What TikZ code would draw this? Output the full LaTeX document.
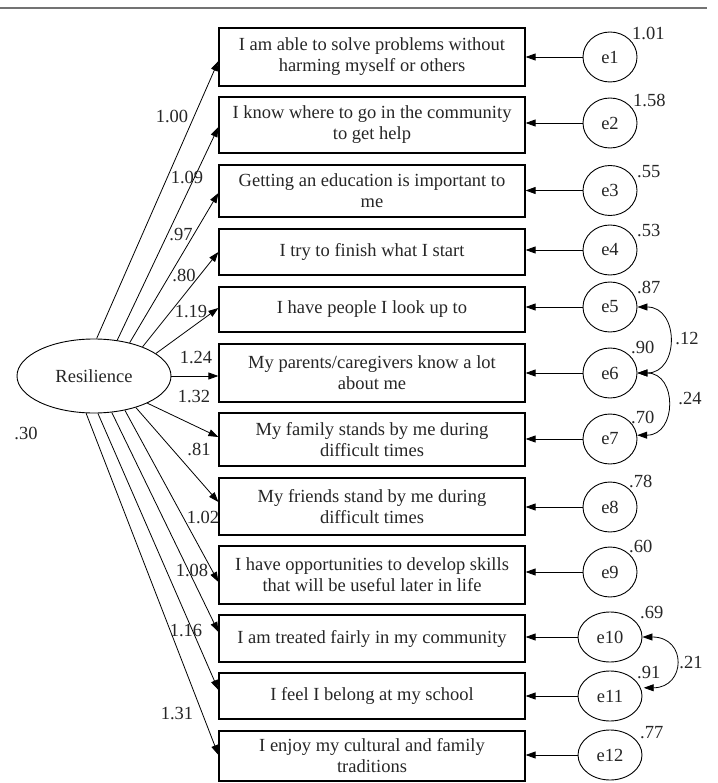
\documentclass[tikz,border=0pt]{standalone}
\usepackage{fontspec}
\setmainfont{Liberation Serif}
\usetikzlibrary{arrows.meta,shapes.geometric}
\begin{document}
\begin{tikzpicture}[x=1pt,y=-1pt,
  every node/.style={font=\fontsize{18.5}{21}\selectfont, text=black!85},
  itembox/.style={draw, line width=1.2pt, minimum width=306pt, inner sep=0pt, align=center},
  errc/.style={draw, ellipse, line width=0.9pt, minimum width=54pt, minimum height=50pt, inner sep=0pt},
  errw/.style={errc, minimum width=64pt},
  lat/.style={draw, ellipse, line width=0.9pt, minimum width=154pt, minimum height=74pt, inner sep=0pt},
  num/.style={inner sep=0pt},
  var/.style={inner sep=0pt, anchor=base west},
  tipped/.style={-{Triangle[length=10pt,width=7pt]}, line width=0.8pt},
  cov/.style={{Triangle[length=10pt,width=7pt]}-{Triangle[length=10pt,width=7pt]}, line width=0.8pt}
]
\useasboundingbox (0,0) rectangle (717,783);
\fill[white] (0,0) rectangle (717,783);
\draw[black!55, line width=2pt] (0,8) -- (707,8);

% observed items
\node[itembox, minimum height=58pt] (b1) at (372,57) {I am able to solve problems without\\harming myself or others};
\node[itembox, minimum height=56pt] (b2) at (372,125) {I know where to go in the community\\to get help};
\node[itembox, minimum height=52pt] (b3) at (372,191) {Getting an education is important to\\me};
\node[itembox, minimum height=46pt] (b4) at (372,252) {I try to finish what I start};
\node[itembox, minimum height=45pt] (b5) at (372,309.5) {I have people I look up to};
\node[itembox, minimum height=58pt] (b6) at (372,373) {My parents/caregivers know a lot\\about me};
\node[itembox, minimum height=53pt] (b7) at (372,439.5) {My family stands by me during\\difficult times};
\node[itembox, minimum height=57pt] (b8) at (372,506.5) {My friends stand by me during\\difficult times};
\node[itembox, minimum height=58pt] (b9) at (372,575) {I have opportunities to develop skills\\that will be useful later in life};
\node[itembox, minimum height=47pt] (b10) at (372,638.5) {I am treated fairly in my community};
\node[itembox, minimum height=46pt] (b11) at (372,696) {I feel I belong at my school};
\node[itembox, minimum height=50pt] (b12) at (372,756) {I enjoy my cultural and family\\traditions};

% latent
\node[lat] (res) at (94,376) {Resilience};

% error terms
\node[errc] (e1) at (610,57) {e1};
\node[errc] (e2) at (610,123) {e2};
\node[errc] (e3) at (610,190.5) {e3};
\node[errc] (e4) at (610,250) {e4};
\node[errc] (e5) at (610,307) {e5};
\node[errc] (e6) at (610,373) {e6};
\node[errc] (e7) at (610,439) {e7};
\node[errc] (e8) at (610,507) {e8};
\node[errc] (e9) at (610,572) {e9};
\node[errw] (e10) at (610,637) {e10};
\node[errw] (e11) at (610,696) {e11};
\node[errw] (e12) at (610,755) {e12};

% loadings
\draw[tipped] (res.86) -- ([yshift=-4pt]b1.west);
\draw[tipped] (res.57) -- ([yshift=-2pt]b2.west);
\draw[tipped] (res.43) -- ([yshift=-2pt]b3.west);
\draw[tipped] (res.31) -- (b4.west);
\draw[tipped] (res.20) -- ([yshift=1.5pt]b5.west);
\draw[tipped] (res.east) -- (res.east -| b6.west);
\draw[tipped] (res.-27) -- ([yshift=2.5pt]b7.west);
\draw[tipped] (res.-37) -- ([yshift=4.5pt]b8.west);
\draw[tipped] (res.-48) -- ([yshift=-7pt]b9.west);
\draw[tipped] (res.-64) -- ([yshift=6.5pt]b10.west);
\draw[tipped] (res.-84) -- ([yshift=6pt]b11.west);
\draw[tipped] (res.-102) -- ([yshift=1pt]b12.west);

% error paths
\foreach \i in {1,...,12}{
  \draw[tipped] (e\i.west) -- (e\i.west -| b\i.east);
}

% covariances
\draw[cov] (e5.east) .. controls +(42,0) and +(42,0) .. (e6.east);
\draw[cov] (e6.east) .. controls +(40,0) and +(40,0) .. (e7.8);
\draw[cov] (e10.east) .. controls +(45,0) and +(42,0) .. ([xshift=3pt]e11.15);

% loading labels
\node[num] at (172,116) {1.00};
\node[num] at (187,177) {1.09};
\node[num] at (181,235) {.97};
\node[num] at (184,275) {.80};
\node[num] at (191,312) {1.19};
\node[num] at (196,358) {1.24};
\node[num] at (194,397) {1.32};
\node[num] at (199,449) {.81};
\node[num] at (203,517) {1.02};
\node[num] at (192,570) {1.08};
\node[num] at (186,630) {1.16};
\node[num] at (177,713) {1.31};
\node[num] at (26,433) {.30};

% covariance labels
\node[num] at (687,339) {.12};
\node[num] at (690,399) {.24};
\node[num] at (691,662) {.21};

% variances
\node[var] at (632,40) {1.01};
\node[var] at (633,107) {1.58};
\node[var] at (637,178) {.55};
\node[var] at (637,237) {.53};
\node[var] at (637,293) {.87};
\node[var] at (631,353) {.90};
\node[var] at (631,423) {.70};
\node[var] at (629,487) {.78};
\node[var] at (629,552) {.60};
\node[var] at (640,618) {.69};
\node[var] at (637,678) {.91};
\node[var] at (640,738) {.77};
\end{tikzpicture}
\end{document}
